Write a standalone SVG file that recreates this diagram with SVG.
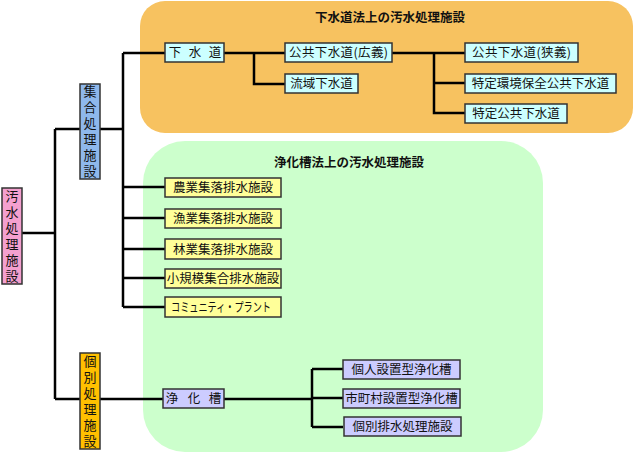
<svg xmlns="http://www.w3.org/2000/svg" width="640" height="460" viewBox="0 0 640 460">
<style>
text{font-family:"Noto Sans CJK JP","Noto Sans CJK SC",sans-serif;fill:#111;}
.t{font-size:12.5px;text-anchor:middle;}
.v{font-size:13px;text-anchor:middle;writing-mode:vertical-rl;letter-spacing:3px;}
.title{font-size:12.5px;font-weight:bold;text-anchor:middle;}
.box{stroke:#333;stroke-width:1.5;}
.c{fill:none;stroke:#000;stroke-width:2.5;}
</style>
<rect id="sewer-area" x="140" y="1" width="493" height="132" rx="25" fill="#F7C260"/>
<text class="title" x="390" y="22">下水道法上の汚水処理施設</text>
<rect id="johkaso-area" x="143" y="141" width="400" height="311" rx="42" fill="#CCFFCC"/>
<text class="title" x="349" y="167">浄化槽法上の汚水処理施設</text>
<g id="connectors" class="c">
<path d="M22 233H55M55 129V399M55 129H123M55 399H165"/>
<path d="M123 53V307M123 53H165M123 187H165M123 218H165M123 249H165M123 278H165M123 307H165"/>
<path d="M224 53H285M254 53V84H285"/>
<path d="M392 53H465M434 53V113H465M434 83H465"/>
<path d="M224 399H312M312 369V427M312 369H343M312 398H343M312 427H343"/>
</g>
<g id="root"><rect class="box" x="2" y="188" width="20" height="96" fill="#F4A0CF"/>
<text class="v" x="12" y="237.5">汚水処理施設</text></g>
<g id="shugo"><rect class="box" x="80" y="84" width="20" height="95" fill="#8EB8EC"/>
<text class="v" x="90" y="133">集合処理施設</text></g>
<g id="kobetsu"><rect class="box" x="80" y="353" width="20" height="96" fill="#FFC000"/>
<text class="v" x="90" y="402.5">個別処理施設</text></g>
<g id="gesuido"><rect class="box" x="165" y="43" width="59" height="19" fill="#CCFFFF"/>
<text class="t" y="57"><tspan x="175">下</tspan><tspan x="195">水</tspan><tspan x="215">道</tspan></text></g>
<g id="kokyo-kogi"><rect class="box" x="285" y="43" width="107" height="19" fill="#CCFFFF"/><text class="t" x="338.5" y="57" textLength="99" lengthAdjust="spacing">公共下水道(広義)</text></g>
<g id="ryuiki"><rect class="box" x="285" y="74" width="73" height="19" fill="#CCFFFF"/><text class="t" x="321.5" y="88">流域下水道</text></g>
<g id="kokyo-kyogi"><rect class="box" x="465" y="43" width="113" height="19" fill="#CCFFFF"/><text class="t" x="521.5" y="57" textLength="99" lengthAdjust="spacing">公共下水道(狭義)</text></g>
<g id="tokutei-kankyo"><rect class="box" x="465" y="74" width="151" height="19" fill="#CCFFFF"/><text class="t" x="540.5" y="88">特定環境保全公共下水道</text></g>
<g id="tokutei-kokyo"><rect class="box" x="465" y="104" width="102" height="19" fill="#CCFFFF"/><text class="t" x="516" y="118">特定公共下水道</text></g>
<g id="nogyo"><rect class="box" x="165" y="178" width="116" height="19" fill="#FFFF99"/><text class="t" x="223" y="192">農業集落排水施設</text></g>
<g id="gyogyo"><rect class="box" x="165" y="209" width="116" height="19" fill="#FFFF99"/><text class="t" x="223" y="223">漁業集落排水施設</text></g>
<g id="ringyo"><rect class="box" x="165" y="239" width="116" height="20" fill="#FFFF99"/><text class="t" x="223" y="253.5">林業集落排水施設</text></g>
<g id="shokibo"><rect class="box" x="165" y="269" width="116" height="19" fill="#FFFF99"/><text class="t" x="223" y="283">小規模集合排水施設</text></g>
<g id="community"><rect class="box" x="165" y="297" width="116" height="20" fill="#FFFF99"/><text class="t" x="221" y="311.5" textLength="100" lengthAdjust="spacingAndGlyphs">コミュニティ・プラント</text></g>
<g id="johkaso"><rect class="box" x="163" y="389" width="61" height="19" fill="#CCCCFF"/>
<text class="t" y="403"><tspan x="172">浄</tspan><tspan x="194">化</tspan><tspan x="215">槽</tspan></text></g>
<g id="kojin"><rect class="box" x="343" y="360" width="117" height="19" fill="#CCCCFF"/><text class="t" x="401.5" y="374">個人設置型浄化槽</text></g>
<g id="shichoson"><rect class="box" x="343" y="389" width="117" height="19" fill="#CCCCFF"/><text class="t" x="401.5" y="403">市町村設置型浄化槽</text></g>
<g id="kobetsu-haisui"><rect class="box" x="344" y="417" width="117" height="19" fill="#CCCCFF"/><text class="t" x="402.5" y="431">個別排水処理施設</text></g>
</svg>
